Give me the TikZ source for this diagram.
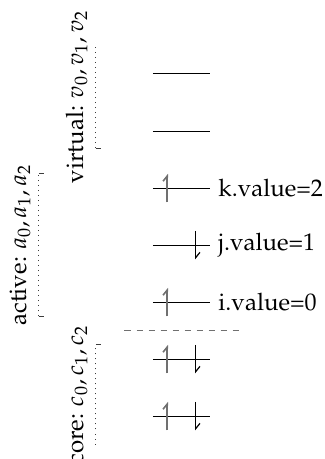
\documentclass[tikz,border=0pt]{standalone}
\usepackage[T1]{fontenc}
\usepackage{mathpazo}
\usepackage{tikz}
\usetikzlibrary{arrows.meta,calc,positioning}
\definecolor{qgray}{RGB}{112,112,112}
\definecolor{qdark}{RGB}{60,60,60}

\begin{document}
\begin{tikzpicture}[
  every node/.style={font=\large},
  wire/.style={draw=black, line width=0.5pt},
  upctl/.style={draw=qgray, line width=0.8pt,
    -{Straight Barb[left, length=2.6pt, width=4.2pt]}},
  dnctl/.style={draw=black, line width=0.6pt,
    -{Straight Barb[left, length=2.6pt, width=4.2pt]}},
  sep/.style={draw=qgray, dashed, line width=0.6pt},
  group/.style={draw=qdark, dotted, line width=0.5pt},
  grouptick/.style={draw=qdark, line width=0.5pt},
  tag/.style={inner sep=4pt},
  val/.style={inner sep=4pt}
]
  \useasboundingbox (-2.684,1.298) rectangle (3.0,-6.754);

  \coordinate (w0) at (0,0);  \coordinate (w0e) at (1,0);
  \coordinate (w1) at (0,-1); \coordinate (w1e) at (1,-1);
  \coordinate (w2) at (0,-2); \coordinate (w2e) at (1,-2);
  \coordinate (w3) at (0,-3); \coordinate (w3e) at (1,-3);
  \coordinate (w4) at (0,-4); \coordinate (w4e) at (1,-4);
  \coordinate (w5) at (0,-5); \coordinate (w5e) at (1,-5);
  \coordinate (w6) at (0,-6); \coordinate (w6e) at (1,-6);

  \draw[wire] (w0) -- (w0e);
  \draw[wire] (w1) -- (w1e);
  \draw[wire] (w2) -- (w2e);
  \draw[wire] (w3) -- (w3e);
  \draw[wire] (w4) -- (w4e);
  \draw[wire] (w5) -- (w5e);
  \draw[wire] (w6) -- (w6e);

  \draw[upctl] ([shift={(0.25,-0.25)}]w2) -- ([shift={(0.25,0.25)}]w2);
  \draw[dnctl] ([shift={(0.75,0.25)}]w3) -- ([shift={(0.75,-0.25)}]w3);
  \draw[upctl] ([shift={(0.25,-0.25)}]w4) -- ([shift={(0.25,0.25)}]w4);
  \draw[upctl] ([shift={(0.25,-0.25)}]w5) -- ([shift={(0.25,0.25)}]w5);
  \draw[dnctl] ([shift={(0.75,0.25)}]w5) -- ([shift={(0.75,-0.25)}]w5);
  \draw[upctl] ([shift={(0.25,-0.25)}]w6) -- ([shift={(0.25,0.25)}]w6);
  \draw[dnctl] ([shift={(0.75,0.25)}]w6) -- ([shift={(0.75,-0.25)}]w6);

  \node[val, right=0pt of w2e] (kval) {k.value=2};
  \node[val, right=0pt of w3e] (jval) {j.value=1};
  \node[val, right=0pt of w4e] (ival) {i.value=0};

  \coordinate (sepl) at (-0.5,-4.5);
  \coordinate (sepr) at (1.5,-4.5);
  \draw[sep] (sepl) -- (sepr);

  \coordinate (vtop) at (-1,0.5);    \coordinate (vbot) at (-1,-1.3);
  \coordinate (atop) at (-2,-1.75);  \coordinate (abot) at (-2,-4.25);
  \coordinate (ctop) at (-1,-4.75);  \coordinate (cbot) at (-1,-6.5);

  \draw[group] (vbot) -- node[tag, midway, above, sloped] (vlab) {virtual: $v_0, v_1, v_2$} (vtop);
  \draw[group] (abot) -- node[tag, midway, above, sloped] (alab) {active: $a_0, a_1, a_2$} (atop);
  \draw[group] (cbot) -- node[tag, midway, above, sloped] (clab) {core: $c_0, c_1, c_2$} (ctop);

  \draw[grouptick] (vbot) -- ++(0.08,0);
  \draw[grouptick] (atop) -- ++(0.08,0);
  \draw[grouptick] (abot) -- ++(0.08,0);
  \draw[grouptick] (ctop) -- ++(0.08,0);
\end{tikzpicture}
\end{document}
